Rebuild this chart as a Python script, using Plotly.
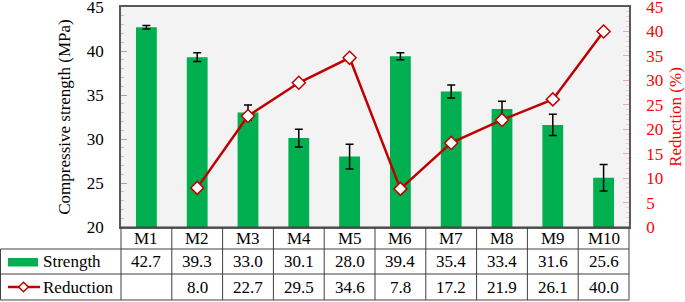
import plotly.graph_objects as go

categories = ["M1", "M2", "M3", "M4", "M5", "M6", "M7", "M8", "M9", "M10"]
strength = [42.7, 39.3, 33.0, 30.1, 28.0, 39.4, 35.4, 33.4, 31.6, 25.6]
strength_err = [0.2, 0.5, 0.85, 1.0, 1.4, 0.4, 0.75, 0.9, 1.2, 1.5]
reduction = [None, 8.0, 22.7, 29.5, 34.6, 7.8, 17.2, 21.9, 26.1, 40.0]
strength_ticks = [20, 25, 30, 35, 40, 45]
reduction_ticks = [0, 5, 10, 15, 20, 25, 30, 35, 40, 45]
row_labels = ["Strength", "Reduction"]

FONT = "Liberation Serif"
GREEN = "#00B050"
RED = "#C00000"
LINE = "#404040"

fig = go.Figure()
fig.add_trace(go.Bar(
    x=categories, y=strength, width=0.41, marker=dict(color=GREEN, line_width=0),
    error_y=dict(type="data", array=strength_err, visible=True, color="black",
                 thickness=1.5, width=4),
    name=row_labels[0], yaxis="y"))
fig.add_trace(go.Scatter(
    x=categories, y=reduction, mode="lines+markers", yaxis="y2", name=row_labels[1],
    line=dict(color=RED, width=2.5),
    marker=dict(symbol="diamond", size=10, color="white", line=dict(color=RED, width=1.5))))

W, H = 685, 302
L, R, T, B = 121, 56, 7, 75
pw, ph = W - L - R, H - T - B

def px2y(py):
    return (H - B - py) / ph

def px2x(px):
    return (px - L) / pw

shapes = []
annotations = []
y_cat_bot = px2y(249)
y_str_bot = px2y(274)
y_red_bot = px2y(300)
x_left = px2x(0.5)

# horizontal table lines
shapes.append(dict(type="line", xref="paper", yref="paper", x0=0, x1=1, y0=0, y1=0, line=dict(color=LINE, width=1)))
for yy in (y_cat_bot, y_str_bot, y_red_bot):
    shapes.append(dict(type="line", xref="paper", yref="paper", x0=x_left, x1=1, y0=yy, y1=yy, line=dict(color=LINE, width=1)))
# vertical lines
shapes.append(dict(type="line", xref="paper", yref="paper", x0=x_left, x1=x_left, y0=y_cat_bot, y1=y_red_bot, line=dict(color=LINE, width=1)))
for xx in (0, 1):
    shapes.append(dict(type="line", xref="paper", yref="paper", x0=xx, x1=xx, y0=0, y1=y_red_bot, line=dict(color=LINE, width=1)))
for i in range(1, len(categories)):
    shapes.append(dict(type="line", xref="x", yref="paper", x0=i - 0.5, x1=i - 0.5, y0=0, y1=y_red_bot, line=dict(color=LINE, width=1)))

# legend keys in table
shapes.append(dict(type="rect", xref="paper", yref="paper", x0=px2x(8), x1=px2x(38), y0=px2y(258), y1=px2y(266.5),
                   fillcolor=GREEN, line_width=0))
yr = px2y(287)
shapes.append(dict(type="line", xref="paper", yref="paper", x0=px2x(8), x1=px2x(40), y0=yr, y1=yr, line=dict(color=RED, width=2.5)))
cx, dx, dy = px2x(23.5), 4.8 / pw, 4.8 / ph
shapes.append(dict(type="path", xref="paper", yref="paper",
                   path=f"M {cx-dx} {yr} L {cx} {yr+dy} L {cx+dx} {yr} L {cx} {yr-dy} Z",
                   fillcolor="white", line=dict(color=RED, width=1.5)))

tf = dict(family=FONT, size=17, color="black")
y_cat = (0 + y_cat_bot) / 2
y_str = (y_cat_bot + y_str_bot) / 2
y_red = (y_str_bot + y_red_bot) / 2
for c, s, r in zip(categories, strength, reduction):
    annotations.append(dict(x=c, y=y_cat, xref="x", yref="paper", text=c, showarrow=False, font=tf, yanchor="middle"))
    annotations.append(dict(x=c, y=y_str, xref="x", yref="paper", text=f"{s:.1f}", showarrow=False, font=tf, yanchor="middle"))
    if r is not None:
        annotations.append(dict(x=c, y=y_red, xref="x", yref="paper", text=f"{r:.1f}", showarrow=False, font=tf, yanchor="middle"))
annotations.append(dict(x=px2x(41), y=y_str, xref="paper", yref="paper", text=row_labels[0], showarrow=False, font=tf, xanchor="left", yanchor="middle"))
annotations.append(dict(x=px2x(41), y=y_red, xref="paper", yref="paper", text=row_labels[1], showarrow=False, font=tf, xanchor="left", yanchor="middle"))

fig.update_layout(
    width=W, height=H, margin=dict(l=L, r=R, t=T, b=B, autoexpand=False),
    plot_bgcolor="#F3F3F3", paper_bgcolor="white", showlegend=False,
    font=dict(family=FONT, size=17, color="black"),
    shapes=shapes, annotations=annotations,
    xaxis=dict(type="category", range=[-0.5, len(categories) - 0.5], showticklabels=False, ticks="",
               showline=True, linecolor="#595959", linewidth=1.5, mirror=True, showgrid=False, zeroline=False),
    yaxis=dict(range=[20, 45], tickvals=strength_ticks, ticks="inside", ticklen=6, tickcolor="#A6A6A6",
               minor=dict(dtick=1, ticks="inside", ticklen=3, tickcolor="#BFBFBF"),
               showline=True, linecolor="#595959", linewidth=1.5, showgrid=False, zeroline=False,
               tickfont=dict(family=FONT, size=17, color="black"), ticklabelstandoff=12,
               ticklabeloverflow="allow",
               title=dict(text="Compressive strength (MPa)", font=dict(family=FONT, size=17, color="black"), standoff=12)),
    yaxis2=dict(range=[0, 45], tickvals=reduction_ticks, overlaying="y", side="right",
                ticks="inside", ticklen=6, tickcolor="#F4A6A6",
                minor=dict(dtick=1, ticks="inside", ticklen=3, tickcolor="#F8C8C8"),
                showline=True, linecolor="#595959", linewidth=1.5, showgrid=False, zeroline=False,
                tickfont=dict(family=FONT, size=17, color="#FF0000"), ticklabelstandoff=12,
                ticklabeloverflow="allow",
                title=dict(text="Reduction (%)", font=dict(family=FONT, size=17, color="#FF0000"), standoff=8)),
)

fig.write_html("out.html", config={"displayModeBar": False},
               post_script="document.body.style.margin='0';document.body.style.overflow='hidden';")
